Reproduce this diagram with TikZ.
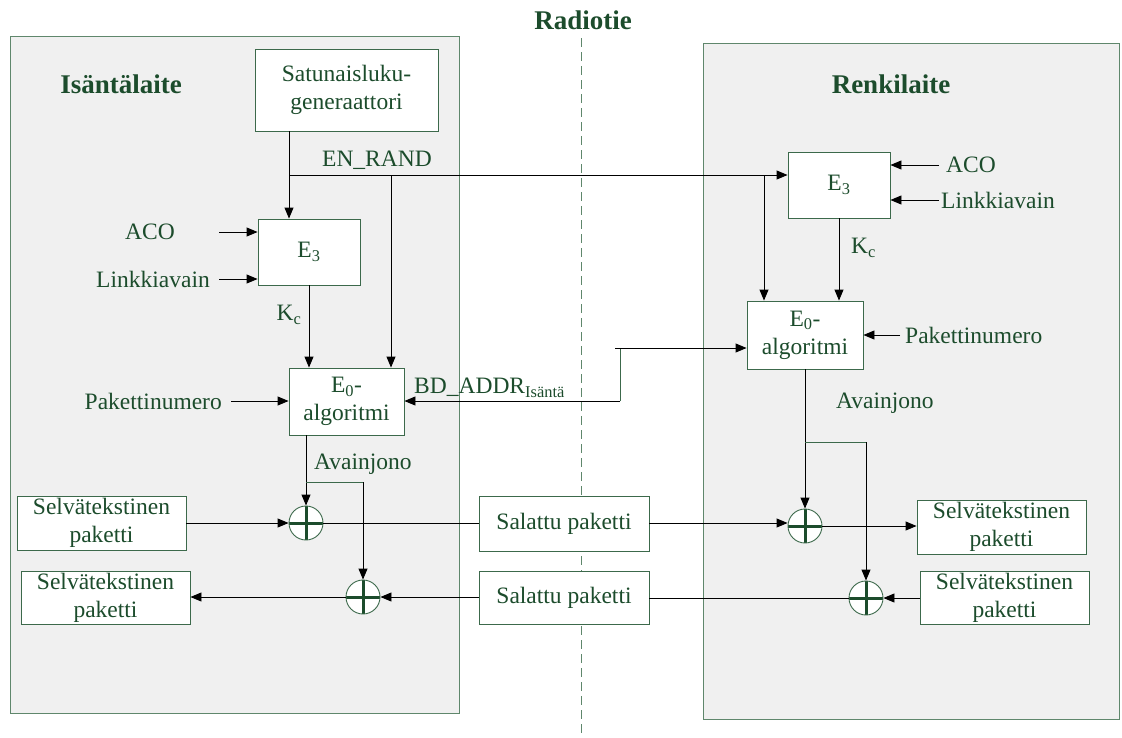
\documentclass[tikz,border=0pt]{standalone}
\usepackage{fontspec}
\setmainfont{Liberation Serif}
\usetikzlibrary{arrows.meta}
\definecolor{tgreen}{RGB}{28,76,44}
\definecolor{bgreen}{RGB}{60,105,75}
\definecolor{pgreen}{RGB}{95,135,108}
\definecolor{pfill}{RGB}{240,240,240}
\tikzset{
  txt/.style={text=tgreen, font=\fontsize{23.5}{28}\selectfont, inner sep=0pt},
  blk/.style={draw=bgreen, fill=white, line width=0.9pt, txt, align=center},
  ttl/.style={text=tgreen, font=\bfseries\fontsize{27}{32}\selectfont, inner sep=0pt},
  panel/.style={draw=pgreen, fill=pfill, line width=1pt},
  conn/.style={draw=black, line width=0.9pt},
  gconn/.style={draw=bgreen, line width=0.9pt},
  arr/.style={conn, -{Triangle[length=11pt,width=9pt]}},
  xor/.style={circle, draw=bgreen, fill=white, minimum size=34pt, inner sep=0pt, line width=0.9pt,
    path picture={\draw[tgreen, line width=3pt]
      (path picture bounding box.north) -- (path picture bounding box.south)
      (path picture bounding box.west) -- (path picture bounding box.east);}},
}
\begin{document}
\begin{tikzpicture}[x=1pt,y=-1pt]
\useasboundingbox (0,0) rectangle (1122,737);
% panels
\draw[panel] (10,36) rectangle (459,713);
\draw[panel] (703,43) rectangle (1119,719);
\draw[pgreen, line width=1pt, dash pattern=on 9pt off 5pt] (581,38) -- (581,737);
% titles
\node[ttl] (radio) at (583,20) {Radiotie};
\node[ttl] (host) at (121,84) {Isäntälaite};
\node[ttl] (slave) at (891,84) {Renkilaite};
% blocks
\node[blk, minimum width=183pt, minimum height=82pt] (rng) at (346.5,90) {Satunaisluku-\\generaattori};
\node[blk, minimum width=102pt, minimum height=66pt] (e3l) at (309,252) {E\textsubscript{3}};
\node[blk, minimum width=115pt, minimum height=67pt] (e0l) at (346.5,401.5) {E\textsubscript{0}-\\algoritmi};
\node[blk, minimum width=102pt, minimum height=66pt] (e3r) at (839,185) {E\textsubscript{3}};
\node[blk, minimum width=116pt, minimum height=68pt] (e0r) at (805,335) {E\textsubscript{0}-\\algoritmi};
\node[blk, minimum width=169pt, minimum height=54pt] (sl1) at (101.5,523) {Selvätekstinen\\paketti};
\node[blk, minimum width=169pt, minimum height=53pt] (sl2) at (105.5,597.5) {Selvätekstinen\\paketti};
\node[blk, minimum width=170pt, minimum height=55pt] (sp1) at (564,523.5) {Salattu paketti};
\node[blk, minimum width=170pt, minimum height=53pt] (sp2) at (564,597.5) {Salattu paketti};
\node[blk, minimum width=169pt, minimum height=54pt] (sr1) at (1001.5,527) {Selvätekstinen\\paketti};
\node[blk, minimum width=169pt, minimum height=53pt] (sr2) at (1004.5,597.5) {Selvätekstinen\\paketti};
% xor
\node[xor] (xl1) at (306,523) {};
\node[xor] (xl2) at (363,597) {};
\node[xor] (xr1) at (805,526) {};
\node[xor] (xr2) at (866,598) {};
% labels
\node[txt] (enrandlbl) at (377,160) {EN\_RAND};
\node[txt] (acol) at (150,232) {ACO};
\node[txt, anchor=east] (linkl) at (210,279) {Linkkiavain};
\node[txt] (kcl) at (289,315) {K\textsubscript{c}};
\node[txt, anchor=east] (pakl) at (222,401) {Pakettinumero};
\node[txt, anchor=west] (bdaddr) at (414,388) {BD\_ADDR\textsubscript{Isäntä}};
\node[txt, anchor=west] (avl) at (314,464) {Avainjono};
\node[txt, anchor=west] (acor) at (946,165) {ACO};
\node[txt, anchor=west] (linkr) at (941,200) {Linkkiavain};
\node[txt, anchor=west] (kcr) at (851,248) {K\textsubscript{c}};
\node[txt, anchor=west] (pakr) at (905,335) {Pakettinumero};
\node[txt, anchor=west] (avr) at (836,403) {Avainjono};
% coordinates
\coordinate (enr) at (289,175);
\coordinate (enl) at (391,175);
\coordinate (enrr) at (764,175);
\coordinate (acolS) at (219,232);
\coordinate (linklS) at (219,279);
\coordinate (paklS) at (231,401);
\coordinate (acorS) at (939,165);
\coordinate (linkrS) at (939,200);
\coordinate (pakrS) at (900,335);
\coordinate (bdtick) at (615,348);
\coordinate (bdtop) at (620,348);
\coordinate (bdbot) at (620,401);
\coordinate (avlb) at (306,482);
\coordinate (avlc) at (363,482);
\coordinate (avrb) at (805,442);
\coordinate (avrc) at (866,442);
% EN_RAND distribution
\draw[conn] (rng.south -| enr) -- (enr);
\draw[arr] (enr) -- (enr |- e3l.north);
\draw[arr] (enr) -- (enr -| e3r.west);
\draw[arr] (enl) -- (enl |- e0l.north);
\draw[arr] (enrr) -- (enrr |- e0r.north);
% E3 inputs
\draw[arr] (acolS) -- (acolS -| e3l.west);
\draw[arr] (linklS) -- (linklS -| e3l.west);
\draw[arr] (acorS) -- (acorS -| e3r.east);
\draw[arr] (linkrS) -- (linkrS -| e3r.east);
% Kc
\draw[arr] (e3l.south) -- (e3l.south |- e0l.north);
\draw[arr] (e3r.south) -- (e3r.south |- e0r.north);
% packet numbers
\draw[arr] (paklS) -- (paklS -| e0l.west);
\draw[arr] (pakrS) -- (pakrS -| e0r.east);
% BD_ADDR
\draw[gconn] (bdtop) -- (bdbot);
\draw[arr] (bdtick) -- (bdtick -| e0r.west);
\draw[arr] (bdbot) -- (bdbot -| e0l.east);
% key streams
\draw[arr] (e0l.south -| xl1) -- (xl1.north);
\draw[gconn] (avlb) -- (avlc);
\draw[arr] (avlc) -- (xl2.north);
\draw[arr] (e0r.south -| xr1) -- (xr1.north);
\draw[gconn] (avrb) -- (avrc);
\draw[arr] (avrc) -- (xr2.north);
% data path upper
\draw[arr] (sl1.east) -- (xl1.west);
\draw[conn] (xl1.east) -- (sp1.west |- xl1.east);
\draw[arr] (sp1.east |- xl1.east) -- (xr1.west |- xl1.east);
\draw[arr] (xr1.east) -- (sr1.west |- xr1.east);
% data path lower
\draw[arr] (sr2.west |- xr2.east) -- (xr2.east);
\draw[conn] (xr2.west) -- (sp2.east |- xr2.west);
\draw[arr] (sp2.west |- xl2.east) -- (xl2.east);
\draw[arr] (xl2.west) -- (sl2.east |- xl2.west);
\end{tikzpicture}
\end{document}
